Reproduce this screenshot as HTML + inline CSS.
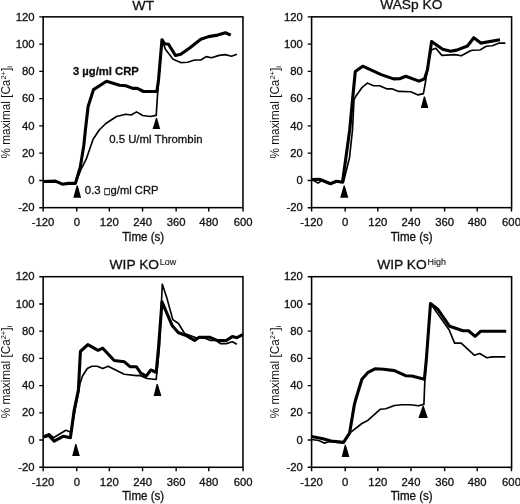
<!DOCTYPE html>
<html lang="en"><head><meta charset="utf-8"><title>Calcium responses</title>
<style>html,body{margin:0;padding:0;background:#fff}body{width:520px;height:504px;overflow:hidden}svg{display:block}</style>
</head><body>
<svg width="520" height="504" viewBox="0 0 520 504" font-family='"Liberation Sans", Arial, Helvetica, sans-serif' fill="#111" stroke="#111" stroke-width="0.3">
<rect width="520" height="504" fill="#fff" stroke="none"/>
<g>
<rect x="43.15" y="16.85" width="199.8" height="190.8" fill="none" stroke="#000" stroke-width="1.55"/>
<path d="M43.15 207.7 v3.9 M76.75 207.7 v3.9 M109.35 207.7 v3.9 M142.55 207.7 v3.9 M176.15 207.7 v3.9 M208.75 207.7 v3.9 M243.05 207.7 v3.9 M43.15 16.85 h-3.9 M43.15 44.11 h-3.9 M43.15 71.38 h-3.9 M43.15 98.64 h-3.9 M43.15 125.91 h-3.9 M43.15 153.17 h-3.9 M43.15 180.44 h-3.9 M43.15 207.70 h-3.9" stroke="#000" stroke-width="1.4" fill="none"/>
<g font-size="11.3" text-anchor="middle">
<text x="43.0" y="226.0">-120</text>
<text x="76.8" y="226.0">0</text>
<text x="109.3" y="226.0">120</text>
<text x="142.6" y="226.0">240</text>
<text x="176.2" y="226.0">360</text>
<text x="208.8" y="226.0">480</text>
<text x="243.1" y="226.0">600</text>
</g>
<g font-size="11.3" text-anchor="end">
<text x="34.5" y="20.5">120</text>
<text x="34.5" y="47.7">100</text>
<text x="34.5" y="75.0">80</text>
<text x="34.5" y="102.2">60</text>
<text x="34.5" y="129.5">40</text>
<text x="34.5" y="156.8">20</text>
<text x="34.5" y="184.0">0</text>
<text x="34.5" y="211.3">-20</text>
</g>
<text x="143.2" y="240.6" font-size="12" text-anchor="middle" textLength="42" lengthAdjust="spacingAndGlyphs">Time (s)</text>
<text transform="translate(9.8 158.5) rotate(-90)" font-size="12" stroke="none" textLength="92.3" lengthAdjust="spacingAndGlyphs">% maximal [Ca<tspan font-size="7.6" dy="-4.2">2+</tspan><tspan dy="4.2">]</tspan><tspan font-size="7.6" dy="2.4">i</tspan></text>
<text x="132.3" y="9.6" font-size="13.3" textLength="21.9" lengthAdjust="spacingAndGlyphs">WT</text>
<polyline points="43.1,181.5 55.4,181.1 62.3,184.2 68.5,183.4 75.4,183.4 80.8,170.0 86.2,159.2 93.1,139.2 99.2,130.0 105.8,123.5 116.5,116.5 125.8,114.2 131.2,115.0 136.5,111.9 142.7,115.5 150.4,116.5 156.2,115.4 157.7,92.3 162.0,39.7 165.4,49.2 173.1,59.2 180.8,62.6 187.7,62.3 194.6,60.0 200.8,60.0 206.2,56.6 211.5,57.7 219.2,55.4 225.4,54.6 231.5,56.2 236.9,54.2" fill="none" stroke="#000" stroke-width="1.65" stroke-linejoin="round" stroke-linecap="butt"/>
<polyline points="43.1,181.5 55.4,181.1 62.3,184.2 68.5,183.4 75.4,183.4 80.3,166.9 83.8,145.4 85.4,130.0 88.1,106.5 93.5,89.6 106.5,81.2 119.6,85.3 125.8,85.8 132.7,88.4 137.3,88.4 143.5,91.5 156.9,91.5 158.5,80.0 162.0,39.7 164.6,43.8 168.5,44.3 175.4,55.4 180.8,54.2 190.0,47.7 200.8,39.2 208.5,36.6 217.7,35.1 225.4,32.8 230.8,35.1" fill="none" stroke="#000" stroke-width="3.1" stroke-linejoin="round" stroke-linecap="butt"/>
<polygon points="76.65,185.60 77.75,185.60 81.10,197.80 73.30,197.80" fill="#000" stroke="none"/>
<polygon points="155.95,117.90 157.05,117.90 160.20,129.00 152.60,129.00" fill="#000" stroke="none"/>
</g>
<g>
<rect x="311.6" y="16.85" width="200.0" height="190.8" fill="none" stroke="#000" stroke-width="1.55"/>
<path d="M311.60 207.7 v3.9 M345.20 207.7 v3.9 M377.80 207.7 v3.9 M411.00 207.7 v3.9 M444.60 207.7 v3.9 M477.20 207.7 v3.9 M511.50 207.7 v3.9 M311.6 16.85 h-3.9 M311.6 44.11 h-3.9 M311.6 71.38 h-3.9 M311.6 98.64 h-3.9 M311.6 125.91 h-3.9 M311.6 153.17 h-3.9 M311.6 180.44 h-3.9 M311.6 207.70 h-3.9" stroke="#000" stroke-width="1.4" fill="none"/>
<g font-size="11.3" text-anchor="middle">
<text x="311.5" y="226.0">-120</text>
<text x="345.2" y="226.0">0</text>
<text x="377.8" y="226.0">120</text>
<text x="411.0" y="226.0">240</text>
<text x="444.6" y="226.0">360</text>
<text x="477.2" y="226.0">480</text>
<text x="511.5" y="226.0">600</text>
</g>
<g font-size="11.3" text-anchor="end">
<text x="302.9" y="20.5">120</text>
<text x="302.9" y="47.7">100</text>
<text x="302.9" y="75.0">80</text>
<text x="302.9" y="102.2">60</text>
<text x="302.9" y="129.5">40</text>
<text x="302.9" y="156.8">20</text>
<text x="302.9" y="184.0">0</text>
<text x="302.9" y="211.3">-20</text>
</g>
<text x="411.7" y="240.6" font-size="12" text-anchor="middle" textLength="42" lengthAdjust="spacingAndGlyphs">Time (s)</text>
<text transform="translate(279.0 158.5) rotate(-90)" font-size="12" stroke="none" textLength="92.3" lengthAdjust="spacingAndGlyphs">% maximal [Ca<tspan font-size="7.6" dy="-4.2">2+</tspan><tspan dy="4.2">]</tspan><tspan font-size="7.6" dy="2.4">i</tspan></text>
<text x="380.2" y="9.3" font-size="13.3" textLength="62.2" lengthAdjust="spacingAndGlyphs">WASp KO</text>
<polyline points="311.5,180.0 314.2,180.8 318.1,183.1 321.9,180.5 330.4,183.8 336.5,181.2 343.4,182.3 349.5,157.7 352.5,130.0 354.0,100.0 355.8,96.2 361.9,87.7 367.3,83.1 373.5,85.7 379.6,85.7 386.5,88.8 391.9,88.8 398.8,91.4 410.8,91.8 418.1,94.9 423.4,93.6 425.6,81.5 428.5,62.0 431.2,50.0 435.8,48.2 441.9,55.4 455.0,54.6 461.3,55.8 470.0,51.0 472.3,50.3 480.0,50.0 486.2,46.2 492.3,45.7 499.2,43.1 505.4,43.1" fill="none" stroke="#000" stroke-width="1.65" stroke-linejoin="round" stroke-linecap="butt"/>
<polyline points="311.5,179.5 319.6,179.2 330.4,183.8 336.5,181.2 342.5,182.3 345.9,157.7 349.7,130.0 352.5,100.0 355.3,71.5 362.7,66.2 381.2,74.6 393.5,78.9 399.6,78.7 405.8,76.2 419.0,81.1 424.6,78.8 427.4,70.0 431.6,41.5 442.7,49.2 450.6,51.2 456.7,50.1 467.5,46.0 473.8,37.7 480.8,43.1 500.0,39.7" fill="none" stroke="#000" stroke-width="3.1" stroke-linejoin="round" stroke-linecap="butt"/>
<polygon points="343.65,185.60 344.75,185.60 348.30,197.70 340.20,197.70" fill="#000" stroke="none"/>
<polygon points="423.85,96.50 424.95,96.50 428.40,108.00 420.80,108.00" fill="#000" stroke="none"/>
</g>
<g>
<rect x="43.15" y="276.7" width="199.8" height="190.6" fill="none" stroke="#000" stroke-width="1.55"/>
<path d="M43.15 467.3 v3.9 M76.75 467.3 v3.9 M109.35 467.3 v3.9 M142.55 467.3 v3.9 M176.15 467.3 v3.9 M208.75 467.3 v3.9 M243.05 467.3 v3.9 M43.15 276.70 h-3.9 M43.15 303.93 h-3.9 M43.15 331.16 h-3.9 M43.15 358.39 h-3.9 M43.15 385.61 h-3.9 M43.15 412.84 h-3.9 M43.15 440.07 h-3.9 M43.15 467.30 h-3.9" stroke="#000" stroke-width="1.4" fill="none"/>
<g font-size="11.3" text-anchor="middle">
<text x="43.0" y="485.6">-120</text>
<text x="76.8" y="485.6">0</text>
<text x="109.3" y="485.6">120</text>
<text x="142.6" y="485.6">240</text>
<text x="176.2" y="485.6">360</text>
<text x="208.8" y="485.6">480</text>
<text x="243.1" y="485.6">600</text>
</g>
<g font-size="11.3" text-anchor="end">
<text x="34.5" y="280.3">120</text>
<text x="34.5" y="307.5">100</text>
<text x="34.5" y="334.8">80</text>
<text x="34.5" y="362.0">60</text>
<text x="34.5" y="389.2">40</text>
<text x="34.5" y="416.4">20</text>
<text x="34.5" y="443.7">0</text>
<text x="34.5" y="470.9">-20</text>
</g>
<text x="143.2" y="500.2" font-size="12" text-anchor="middle" textLength="42" lengthAdjust="spacingAndGlyphs">Time (s)</text>
<text transform="translate(9.8 418.2) rotate(-90)" font-size="12" stroke="none" textLength="92.3" lengthAdjust="spacingAndGlyphs">% maximal [Ca<tspan font-size="7.6" dy="-4.2">2+</tspan><tspan dy="4.2">]</tspan><tspan font-size="7.6" dy="2.4">i</tspan></text>
<text x="109.6" y="269.0" font-size="13.3" textLength="49.4" lengthAdjust="spacingAndGlyphs">WIP KO</text>
<text x="159.7" y="265.2" font-size="8.6" stroke-width="0.1" textLength="16.4" lengthAdjust="spacingAndGlyphs">Low</text>
<polyline points="43.0,436.2 49.2,433.8 53.5,437.7 65.8,430.3 71.2,432.3 75.0,410.0 79.0,390.0 79.9,383.8 82.5,376.0 87.3,368.5 91.9,366.2 97.3,366.2 102.7,368.5 108.1,366.2 124.2,374.3 136.5,375.6 140.0,375.4 146.9,378.5 156.2,379.5 159.3,348.0 162.3,284.2 166.9,298.1 172.8,319.6 178.5,323.5 184.6,333.5 196.2,337.8 203.8,337.8 210.4,340.4 216.2,340.5 220.4,343.6 226.2,343.6 232.3,341.8 236.9,344.3" fill="none" stroke="#000" stroke-width="1.65" stroke-linejoin="round" stroke-linecap="butt"/>
<polyline points="43.0,436.9 48.8,435.4 54.2,441.1 63.5,436.2 70.4,437.7 74.2,410.0 78.4,390.0 80.4,351.5 87.8,344.6 98.1,350.3 102.7,348.2 114.2,360.5 124.4,361.8 130.0,366.7 136.3,366.7 140.8,373.1 146.2,376.2 150.8,370.0 156.2,372.3 158.5,348.0 162.0,301.9 172.3,325.8 178.5,332.7 186.9,335.8 194.6,340.4 199.2,337.3 210.0,337.3 217.5,340.6 226.2,340.5 232.3,336.6 236.9,337.7 242.8,334.6" fill="none" stroke="#000" stroke-width="3.1" stroke-linejoin="round" stroke-linecap="butt"/>
<polygon points="75.25,444.00 76.35,444.00 79.80,455.90 72.20,455.90" fill="#000" stroke="none"/>
<polygon points="156.65,384.00 157.75,384.00 161.40,395.90 153.60,395.90" fill="#000" stroke="none"/>
</g>
<g>
<rect x="311.6" y="276.7" width="200.0" height="190.6" fill="none" stroke="#000" stroke-width="1.55"/>
<path d="M311.60 467.3 v3.9 M345.20 467.3 v3.9 M377.80 467.3 v3.9 M411.00 467.3 v3.9 M444.60 467.3 v3.9 M477.20 467.3 v3.9 M511.50 467.3 v3.9 M311.6 276.70 h-3.9 M311.6 303.93 h-3.9 M311.6 331.16 h-3.9 M311.6 358.39 h-3.9 M311.6 385.61 h-3.9 M311.6 412.84 h-3.9 M311.6 440.07 h-3.9 M311.6 467.30 h-3.9" stroke="#000" stroke-width="1.4" fill="none"/>
<g font-size="11.3" text-anchor="middle">
<text x="311.5" y="485.6">-120</text>
<text x="345.2" y="485.6">0</text>
<text x="377.8" y="485.6">120</text>
<text x="411.0" y="485.6">240</text>
<text x="444.6" y="485.6">360</text>
<text x="477.2" y="485.6">480</text>
<text x="511.5" y="485.6">600</text>
</g>
<g font-size="11.3" text-anchor="end">
<text x="302.9" y="280.3">120</text>
<text x="302.9" y="307.5">100</text>
<text x="302.9" y="334.8">80</text>
<text x="302.9" y="362.0">60</text>
<text x="302.9" y="389.2">40</text>
<text x="302.9" y="416.4">20</text>
<text x="302.9" y="443.7">0</text>
<text x="302.9" y="470.9">-20</text>
</g>
<text x="411.7" y="500.2" font-size="12" text-anchor="middle" textLength="42" lengthAdjust="spacingAndGlyphs">Time (s)</text>
<text transform="translate(279.0 418.2) rotate(-90)" font-size="12" stroke="none" textLength="92.3" lengthAdjust="spacingAndGlyphs">% maximal [Ca<tspan font-size="7.6" dy="-4.2">2+</tspan><tspan dy="4.2">]</tspan><tspan font-size="7.6" dy="2.4">i</tspan></text>
<text x="377.2" y="269.0" font-size="13.3" textLength="49.6" lengthAdjust="spacingAndGlyphs">WIP KO</text>
<text x="427.6" y="265.2" font-size="8.6" stroke-width="0.1" textLength="18.4" lengthAdjust="spacingAndGlyphs">High</text>
<polyline points="311.5,439.5 318.8,440.5 324.2,443.1 329.6,441.5 343.5,443.1 349.6,433.1 361.9,423.5 368.1,420.2 380.4,409.2 385.8,408.7 394.4,405.5 401.9,404.7 410.3,404.7 418.6,405.8 423.9,404.4 424.9,379.4 426.3,360.0 430.5,303.5 440.0,316.9 449.2,330.0 454.6,343.1 461.2,343.1 474.2,355.2 479.7,353.5 486.9,357.7 492.3,356.9 505.4,356.9" fill="none" stroke="#000" stroke-width="1.65" stroke-linejoin="round" stroke-linecap="butt"/>
<polyline points="311.5,436.6 321.9,438.5 331.2,441.1 343.5,442.3 349.6,433.1 354.2,405.4 355.8,399.2 361.9,379.2 368.1,372.3 375.0,368.8 383.5,369.2 394.5,370.6 405.6,375.7 411.8,376.0 424.4,379.3 426.3,360.0 430.5,303.5 437.7,309.2 449.6,326.3 463.0,330.8 468.5,330.8 475.1,336.4 480.8,331.2 506.2,331.2" fill="none" stroke="#000" stroke-width="3.1" stroke-linejoin="round" stroke-linecap="butt"/>
<polygon points="344.75,444.80 345.85,444.80 349.40,457.00 341.70,457.00" fill="#000" stroke="none"/>
<polygon points="422.65,405.90 423.75,405.90 427.80,418.10 418.40,418.10" fill="#000" stroke="none"/>
</g>
<text x="72.9" y="75.4" font-size="11.4" font-weight="bold" textLength="65.9" lengthAdjust="spacingAndGlyphs">3 µg/ml CRP</text>
<text x="109.2" y="143.1" font-size="11.4" textLength="93.3" lengthAdjust="spacingAndGlyphs">0.5 U/ml Thrombin</text>
<text x="84.8" y="194.2" font-size="11.4" textLength="15.9" lengthAdjust="spacingAndGlyphs">0.3</text>
<text transform="translate(104.1 193.9) scale(1 1.28)" font-size="6.7" font-family='"DejaVu Sans", sans-serif'>□</text>
<text x="110.6" y="194.2" font-size="11.4" textLength="47.9" lengthAdjust="spacingAndGlyphs">g/ml CRP</text>
</svg>
</body></html>
